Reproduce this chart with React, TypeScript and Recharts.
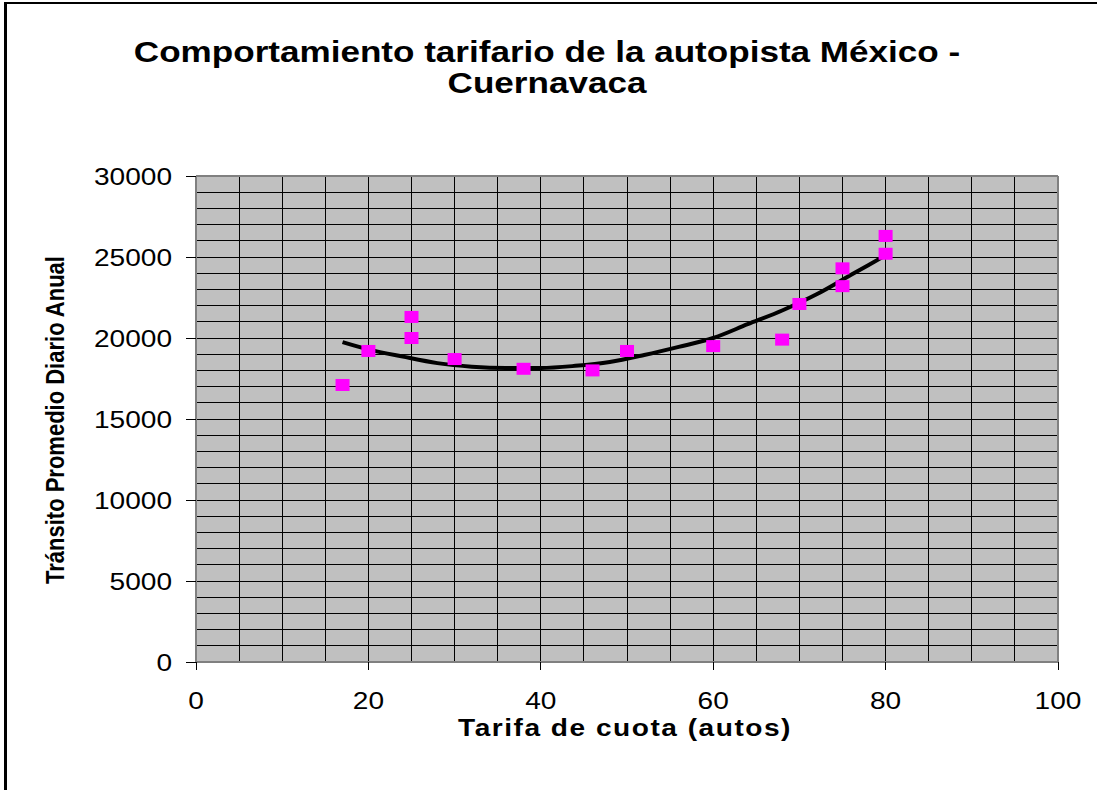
import { ComposedChart, Scatter, Line, XAxis, YAxis, CartesianGrid, ReferenceLine } from 'recharts'

// observed points: tarifa (x) vs tránsito promedio diario anual (y)
const tarifa = [17, 20, 25, 25, 30, 38, 46, 50, 60, 68, 70, 75, 75, 80, 80]
const transito = [17100, 19200, 21300, 20000, 18700, 18100, 18000, 19200, 19500, 19900, 22100, 24300, 23200, 26300, 25200]

// trend curve
const trendX = [17, 20, 24, 28, 32, 36, 40, 44, 48, 52, 56, 60, 64, 68, 72, 76, 80]
const trendY = [19750, 19300, 18850, 18450, 18230, 18150, 18150, 18280, 18520, 18950, 19450, 20000, 20850, 21700, 22700, 23900, 25100]

const xTicks = [0, 20, 40, 60, 80, 100]
const yTicks = [0, 5000, 10000, 15000, 20000, 25000, 30000]
const xGrid = [5, 10, 15, 20, 25, 30, 35, 40, 45, 50, 55, 60, 65, 70, 75, 80, 85, 90, 95]
const yGrid = [1000, 2000, 3000, 4000, 5000, 6000, 7000, 8000, 9000, 10000, 11000, 12000, 13000, 14000, 15000,
  16000, 17000, 18000, 19000, 20000, 21000, 22000, 23000, 24000, 25000, 26000, 27000, 28000, 29000]

const points = tarifa.map((x, i) => ({ x, y: transito[i] }))
const trend = trendX.map((x, i) => ({ x, y: trendY[i] }))

// the original's text is drawn wider than it is tall
const SX = 1.17
const FONT = '"Liberation Sans", Arial, sans-serif'

const Square = (props: any) => {
  const { cx, cy } = props
  if (cx == null || cy == null) return <g />
  return <rect x={cx - 7} y={cy - 6} width={14} height={12} fill="#FF00FF" />
}

const XTick = (props: any) => {
  const { x, y, payload } = props
  return (
    <g transform={`translate(${x},${y})`}>
      <text transform={`scale(${SX},1)`} textAnchor="middle" dy="0.71em" fontSize={24} fontFamily={FONT} fill="#000">
        {payload.value}
      </text>
    </g>
  )
}

const YTick = (props: any) => {
  const { x, y, payload } = props
  return (
    <g transform={`translate(${x},${y})`}>
      <text transform={`scale(${SX},1)`} textAnchor="end" dy="0.355em" fontSize={24} fontFamily={FONT} fill="#000">
        {payload.value}
      </text>
    </g>
  )
}

export default function App() {
  return (
    <div style={{ position: 'absolute', left: 0, top: 0, width: 1097, height: 790, overflow: 'hidden', background: '#fff' }}>
      <style>{`
        .recharts-cartesian-grid line,
        .recharts-reference-line line,
        .recharts-cartesian-axis line { shape-rendering: crispEdges; }
      `}</style>
      <div style={{ position: 'absolute', left: 4, top: 2, width: 1200, height: 900, borderLeft: '3px solid #000', borderTop: '2px solid #000' }} />
      <ComposedChart
        width={1097}
        height={790}
        margin={{ top: 176, right: 39, bottom: 78, left: 96 }}
      >
        <CartesianGrid
          fill="#C0C0C0"
          fillOpacity={1}
          stroke="#000"
          strokeWidth={1}
          horizontal={false}
          verticalValues={xGrid}
        />
        <XAxis
          type="number"
          dataKey="x"
          domain={[0, 100]}
          ticks={xTicks}
          allowDataOverflow
          height={50}
          tickSize={8}
          tickMargin={22}
          tick={<XTick />}
          axisLine={{ stroke: '#808080', strokeWidth: 2 }}
          tickLine={{ stroke: '#000' }}
        />
        <YAxis
          type="number"
          dataKey="y"
          domain={[0, 30000]}
          ticks={yTicks}
          allowDataOverflow
          width={100}
          tickSize={10}
          tickMargin={14}
          tick={<YTick />}
          axisLine={{ stroke: '#808080', strokeWidth: 2 }}
          tickLine={{ stroke: '#000' }}
        />
        {yGrid.map((v) => (
          <ReferenceLine key={`h-${v}`} y={v} stroke="#000" strokeWidth={1} />
        ))}
        <ReferenceLine y={30000} stroke="#808080" strokeWidth={2} />
        <ReferenceLine x={100} stroke="#808080" strokeWidth={2} />
        <Line
          data={trend}
          dataKey="y"
          type="monotone"
          stroke="#000"
          strokeWidth={4}
          dot={false}
          isAnimationActive={false}
        />
        <Scatter data={points} dataKey="y" shape={Square} isAnimationActive={false} />
      </ComposedChart>
      <svg width={1097} height={790} style={{ position: 'absolute', left: 0, top: 0, pointerEvents: 'none' }}>
        <g transform="translate(547, 62)">
          <text transform={`scale(${SX},1)`} textAnchor="middle" fontFamily={FONT} fontWeight="bold" fontSize={30} fill="#000">
            Comportamiento tarifario de la autopista México -
          </text>
        </g>
        <g transform="translate(547, 93)">
          <text transform={`scale(${SX},1)`} textAnchor="middle" fontFamily={FONT} fontWeight="bold" fontSize={30} fill="#000">
            Cuernavaca
          </text>
        </g>
        <g transform={`translate(55, 420) scale(${SX},1) rotate(-90)`}>
          <text textAnchor="middle" dominantBaseline="central" fontFamily={FONT} fontWeight="bold" fontSize={22} fill="#000">
            Tránsito Promedio Diario Anual
          </text>
        </g>
        <g transform="translate(625, 736)">
          <text transform={`scale(${SX},1)`} textAnchor="middle" fontFamily={FONT} fontWeight="bold" fontSize={24} letterSpacing={1.3} fill="#000">
            Tarifa de cuota (autos)
          </text>
        </g>
      </svg>
    </div>
  )
}
